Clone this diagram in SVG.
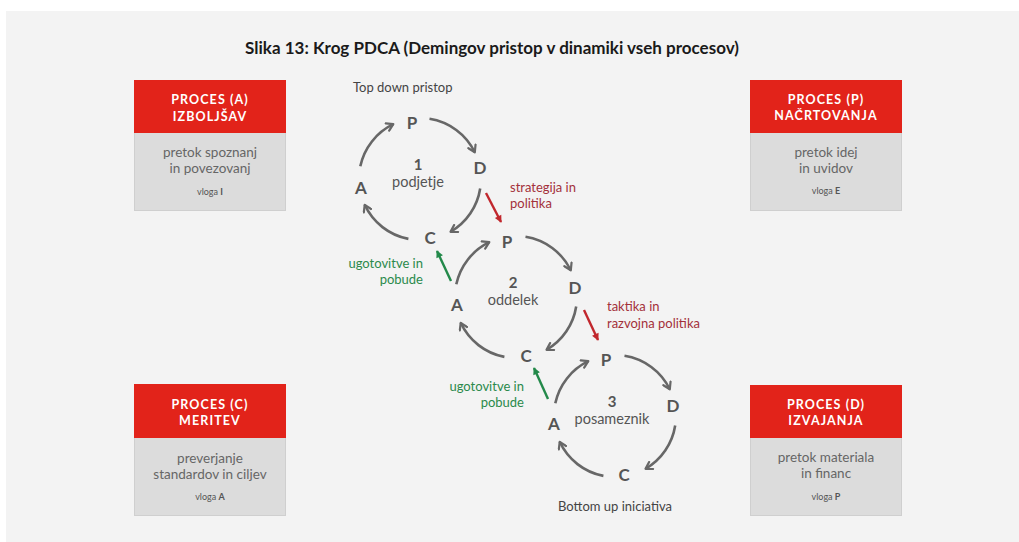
<svg xmlns="http://www.w3.org/2000/svg" width="1019" height="542" viewBox="0 0 1019 542">
<defs>
<style>
.t{font-family:Lato,"Noto Sans","Liberation Sans",sans-serif}
.title{font-size:17px;font-weight:bold;fill:#1a1a1a}
.hd{font-size:12.5px;font-weight:bold;fill:#fff;letter-spacing:1.1px;text-anchor:middle}
.bd{font-size:13.5px;fill:#666;text-anchor:middle}
.vl{font-size:9px;fill:#555;text-anchor:middle}
.vl tspan{font-weight:bold}
.lt{font-size:17px;font-weight:bold;fill:#555;text-anchor:middle}
.num{font-size:15px;font-weight:bold;fill:#555;text-anchor:middle}
.nm{font-size:14.5px;fill:#555;text-anchor:middle}
.note{font-size:13px;fill:#444}
.red{font-size:13px;fill:#a3303a}
.grn{font-size:13px;fill:#2b8a4b;text-anchor:end}
.arc{fill:none;stroke:#676767;stroke-width:2.6;marker-end:url(#ah)}
.ra{stroke:#c1272d;stroke-width:2.4;marker-end:url(#rh)}
.ga{stroke:#23894a;stroke-width:2.4;marker-end:url(#gh)}
.red-hd{fill:#e2231a}
.gray-bd{fill:#dcdcdc;stroke:#cfcfcf;stroke-width:1}
</style>
<marker id="ah" viewBox="0 0 10 10" refX="8" refY="5" markerWidth="10" markerHeight="10" markerUnits="userSpaceOnUse" orient="auto">
<path d="M1.5,1 L8,5 L1.5,9" fill="none" stroke="#676767" stroke-width="2.2" stroke-linecap="round" stroke-linejoin="round"/>
</marker>
<marker id="rh" viewBox="0 0 10 10" refX="8" refY="5" markerWidth="9" markerHeight="9" markerUnits="userSpaceOnUse" orient="auto">
<path d="M1,1 L9,5 L1,9 Z" fill="#c1272d"/>
</marker>
<marker id="gh" viewBox="0 0 10 10" refX="8" refY="5" markerWidth="9" markerHeight="9" markerUnits="userSpaceOnUse" orient="auto">
<path d="M1,1 L9,5 L1,9 Z" fill="#23894a"/>
</marker>
<g id="cyc">
<path class="arc" d="M -59.7 -12.7 A 61 61 0 0 1 -26.7 -54.8"/>
<path class="arc" d="M 9.5 -60.2 A 61 61 0 0 1 54.8 -26.7"/>
<path class="arc" d="M 60.2 9.5 A 61 61 0 0 1 30.5 52.8"/>
<path class="arc" d="M -11.6 59.9 A 61 61 0 0 1 -55.3 25.8"/>
</g>
</defs>
<rect x="0" y="0" width="1019" height="542" fill="#fff"/>
<rect x="6" y="11" width="1013" height="531" fill="#f3f3f3"/>
<text class="t title" x="492" y="54" text-anchor="middle">Slika 13: Krog PDCA (Demingov pristop v dinamiki vseh procesov)</text>

<g id="box-a">
<rect class="gray-bd" x="134.5" y="80.5" width="151" height="130"/>
<rect class="red-hd" x="134" y="80" width="152" height="53"/>
<text class="t hd" x="210" y="104">PROCES (A)</text>
<text class="t hd" x="210" y="121">IZBOLJŠAV</text>
<text class="t bd" x="210" y="157">pretok spoznanj</text>
<text class="t bd" x="210" y="173">in povezovanj</text>
<text class="t vl" x="210" y="195">vloga <tspan>I</tspan></text>
</g>
<g id="box-p">
<rect class="gray-bd" x="750.5" y="80.5" width="151" height="130"/>
<rect class="red-hd" x="750" y="80" width="152" height="53"/>
<text class="t hd" x="826" y="104">PROCES (P)</text>
<text class="t hd" x="826" y="120">NAČRTOVANJA</text>
<text class="t bd" x="826" y="157">pretok idej</text>
<text class="t bd" x="826" y="173">in uvidov</text>
<text class="t vl" x="826" y="194">vloga <tspan>E</tspan></text>
</g>
<g id="box-c">
<rect class="gray-bd" x="134.5" y="384.5" width="151" height="131"/>
<rect class="red-hd" x="134" y="384" width="152" height="54"/>
<text class="t hd" x="210" y="409">PROCES (C)</text>
<text class="t hd" x="210" y="425">MERITEV</text>
<text class="t bd" x="210" y="463">preverjanje</text>
<text class="t bd" x="210" y="479">standardov in ciljev</text>
<text class="t vl" x="210" y="500">vloga <tspan>A</tspan></text>
</g>
<g id="box-d">
<rect class="gray-bd" x="750.5" y="385.5" width="151" height="130"/>
<rect class="red-hd" x="750" y="385" width="152" height="53"/>
<text class="t hd" x="826" y="409">PROCES (D)</text>
<text class="t hd" x="826" y="425">IZVAJANJA</text>
<text class="t bd" x="826" y="462">pretok materiala</text>
<text class="t bd" x="826" y="478">in financ</text>
<text class="t vl" x="826" y="500">vloga <tspan>P</tspan></text>
</g>

<g id="connectors">
<use href="#cyc" transform="translate(420,179)"/>
<use href="#cyc" transform="translate(516,297)"/>
<use href="#cyc" transform="translate(615,416)"/>
<line class="ra" x1="486" y1="193" x2="501" y2="222"/>
<line class="ra" x1="584" y1="310" x2="598" y2="340"/>
<line class="ga" x1="451" y1="281" x2="437" y2="251"/>
<line class="ga" x1="548" y1="399" x2="534" y2="368"/>
</g>

<g id="cycle-1">
<text class="t lt" x="412" y="129">P</text>
<text class="t lt" x="480" y="174">D</text>
<text class="t lt" x="430" y="244">C</text>
<text class="t lt" x="361" y="194">A</text>
<text class="t num" x="418" y="170">1</text>
<text class="t nm" x="418" y="187">podjetje</text>
</g>
<g id="cycle-2">
<text class="t lt" x="507" y="248">P</text>
<text class="t lt" x="575" y="294">D</text>
<text class="t lt" x="526" y="362">C</text>
<text class="t lt" x="457" y="311">A</text>
<text class="t num" x="513" y="288">2</text>
<text class="t nm" x="513" y="305">oddelek</text>
</g>
<g id="cycle-3">
<text class="t lt" x="606" y="366">P</text>
<text class="t lt" x="673" y="412">D</text>
<text class="t lt" x="624" y="481">C</text>
<text class="t lt" x="554" y="430">A</text>
<text class="t num" x="612" y="407">3</text>
<text class="t nm" x="612" y="424">posameznik</text>
</g>

<g id="labels">
<text class="t note" x="353" y="92">Top down pristop</text>
<text class="t red" x="510" y="192">strategija in</text>
<text class="t red" x="510" y="208">politika</text>
<text class="t grn" x="423" y="268">ugotovitve in</text>
<text class="t grn" x="423" y="284">pobude</text>
<text class="t red" x="607" y="311">taktika in</text>
<text class="t red" x="607" y="328">razvojna politika</text>
<text class="t grn" x="524" y="391">ugotovitve in</text>
<text class="t grn" x="524" y="407">pobude</text>
<text class="t note" x="615" y="511" text-anchor="middle">Bottom up iniciativa</text>
</g>
</svg>
